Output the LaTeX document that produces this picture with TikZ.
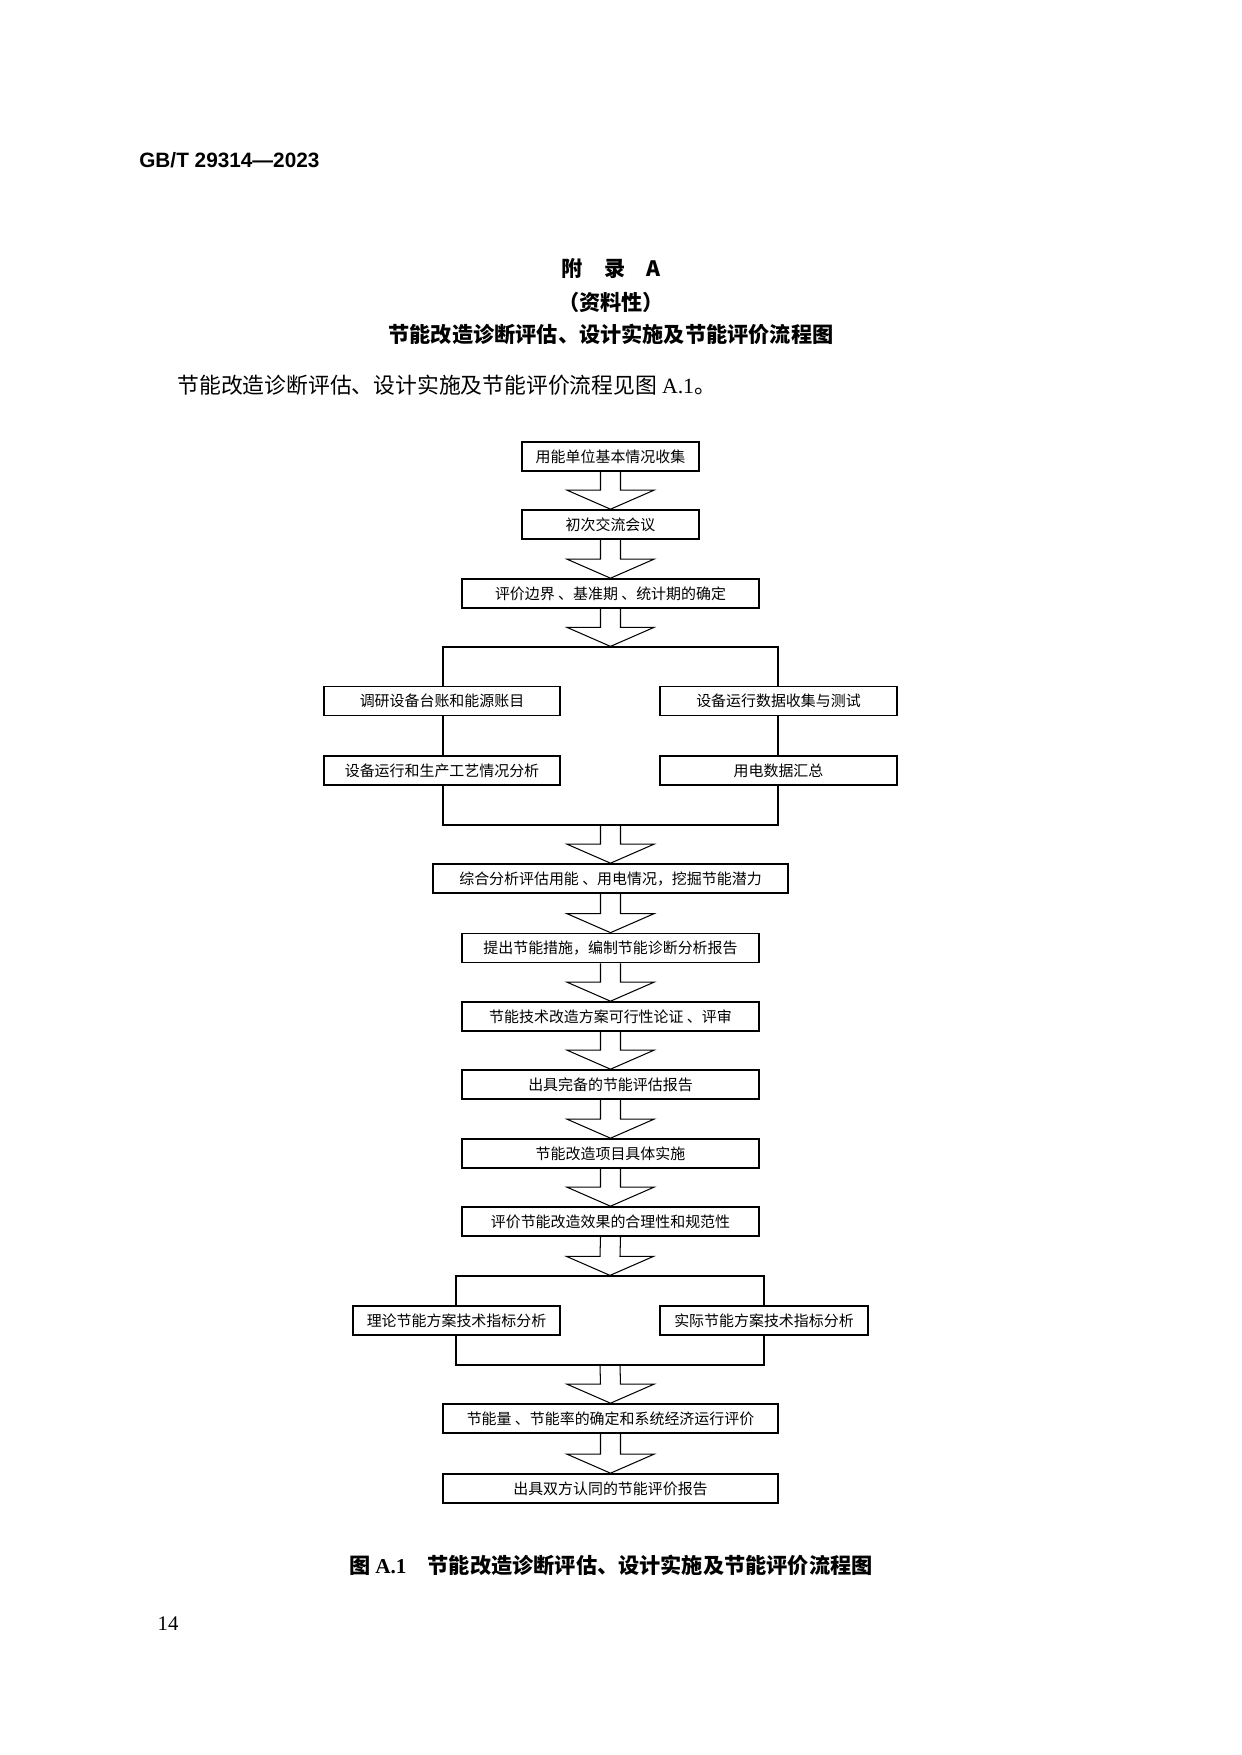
\documentclass[tikz,border=0pt]{standalone}
\usepackage{fontspec}
\setmainfont{Liberation Serif}
\newfontfamily\cjk{Noto Sans CJK SC}
\newfontfamily\heiti{Liberation Sans}
\usetikzlibrary{calc,positioning}
\newlength\unitpx
\setlength{\unitpx}{0.4815pt}
% hollow block arrow from one node down to the next
\newcommand{\flowto}[2]{%
\draw[blockarrow] ($(#1.south)+(-10,0)$) -- ($(#2.north)+(-10,-19)$) -- ++(-33.5,0) -- (#2.north) -- ++(43.5,-19) -- ++(-33.5,0) -- ($(#1.south)+(10,0)$);}
\begin{document}
\begin{tikzpicture}
[x=\unitpx,y=-\unitpx,
box/.style = {draw, line width=0.8pt, fill=white, inner sep=0pt, minimum height=29\unitpx, font=\cjk\fontsize{7.2pt}{9pt}\selectfont},
splitbox/.style = {draw, line width=0.6pt, inner sep=0pt},
blockarrow/.style = {line width=0.5pt, line join=miter},
head/.style = {font=\cjk\bfseries\fontsize{10.2pt}{12pt}\selectfont},]
\useasboundingbox (0,0) rectangle (1241,1755);
\node (hdr) at (132,160)[anchor=west,font=\heiti\bfseries\fontsize{10pt}{12pt}\selectfont] {GB/T 29314—2023};
\node (app) at (611,269)[head] {附\hspace{1em}录\hspace{1em}A};
\node (inf) at (611,302)[head] {（资料性）};
\node (ttl) at (611,334)[head] {节能改造诊断评估、设计实施及节能评价流程图};
\node (txt) at (177,385)[anchor=west,inner sep=0pt,font=\cjk\fontsize{10.5pt}{12pt}\selectfont] {节能改造诊断评估、设计实施及节能评价流程见图 {\rmfamily A.1}。};
\node (B1) at (610.5,456.5)[box,minimum width=177\unitpx] {用能单位基本情况收集};
\node (B2) at (610.5,524.5)[box,minimum width=177\unitpx] {初次交流会议};
\node (B3) at (610.5,593.5)[box,minimum width=297\unitpx] {评价边界 、基准期 、统计期的确定};
\node (S1) at (610.5,736)[splitbox,minimum width=335\unitpx,minimum height=178\unitpx] {};
\node (L1) at (442,701)[box,minimum width=236\unitpx] {调研设备台账和能源账目};
\node (R1) at (778.5,701)[box,minimum width=237\unitpx] {设备运行数据收集与测试};
\node (L2) at (442,770.5)[box,minimum width=236\unitpx] {设备运行和生产工艺情况分析};
\node (R2) at (778.5,770.5)[box,minimum width=237\unitpx] {用电数据汇总};
\node (B4) at (610.5,878.5)[box,minimum width=355\unitpx] {综合分析评估用能 、用电情况，挖掘节能潜力};
\node (B5) at (610.5,948)[box,minimum width=297\unitpx] {提出节能措施，编制节能诊断分析报告};
\node (B6) at (610.5,1016.5)[box,minimum width=297\unitpx] {节能技术改造方案可行性论证 、评审};
\node (B7) at (610.5,1084.5)[box,minimum width=297\unitpx] {出具完备的节能评估报告};
\node (B8) at (610.5,1153.5)[box,minimum width=297\unitpx] {节能改造项目具体实施};
\node (B9) at (610.5,1221.5)[box,minimum width=297\unitpx] {评价节能改造效果的合理性和规范性};
\node (S2) at (610,1320.5)[splitbox,minimum width=308\unitpx,minimum height=89\unitpx] {};
\node (T1) at (456.5,1320.5)[box,minimum width=207\unitpx] {理论节能方案技术指标分析};
\node (T2) at (764,1320.5)[box,minimum width=208\unitpx] {实际节能方案技术指标分析};
\node (B10) at (610.5,1418.5)[box,minimum width=335\unitpx] {节能量 、节能率的确定和系统经济运行评价};
\node (B11) at (610.5,1488.5)[box,minimum width=335\unitpx] {出具双方认同的节能评价报告};
\flowto{B1}{B2}
\flowto{B2}{B3}
\flowto{B3}{S1}
\flowto{S1}{B4}
\flowto{B4}{B5}
\flowto{B5}{B6}
\flowto{B6}{B7}
\flowto{B7}{B8}
\flowto{B8}{B9}
\flowto{B9}{S2}
\flowto{S2}{B10}
\flowto{B10}{B11}
\node (cap) at (611,1565)[head] {图 {\rmfamily\bfseries A.1}\hspace{1em}节能改造诊断评估、设计实施及节能评价流程图};
\node (pg) at (168,1624)[font=\fontsize{10pt}{12pt}\selectfont] {14};
\end{tikzpicture}
\end{document}
